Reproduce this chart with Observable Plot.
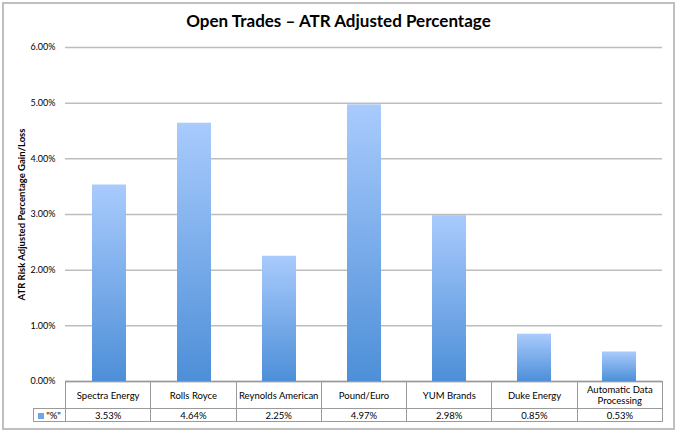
<!DOCTYPE html>
<html>
<head>
<meta charset="utf-8">
<script src="https://cdn.jsdelivr.net/npm/d3@7"></script>
<script src="https://cdn.jsdelivr.net/npm/@observablehq/plot@0.6"></script>
<style>
  html, body { margin: 0; padding: 0; background: #fff; }
  #wrap { position: relative; width: 677px; height: 431px; font-family: Lato, "Open Sans", sans-serif; color: #000; overflow: hidden; }
  #frame { position: absolute; left: 2px; top: 2px; width: 669px; height: 424px; border: 2px solid #bfbfbf; box-sizing: content-box; }
  #title { position: absolute; left: 0; width: 677px; top: 10px; text-align: center; font-weight: bold; font-size: 17px; }
  #chart { position: absolute; left: 0; top: 0; }
  #chart svg text { font-family: Lato, "Open Sans", sans-serif; }
  #chart g[aria-label="y-axis label"] text { font-weight: bold; font-size: 9.5px; }
  #tbl { position: absolute; left: 33px; top: 381px; border-collapse: collapse; font-size: 9.5px; table-layout: fixed; }
  #tbl td { border: 1px solid #9a9a9a; text-align: center; padding: 0; line-height: 11px; }
  #tbl tr.r1 td { height: 26px; }
  #tbl tr.r2 td { height: 12px; }
  #tbl td.blank { border: none; border-right: 1px solid #9a9a9a; }
  .sw { display: inline-block; width: 6px; height: 6px; background: #6fa6ea; margin-right: 2px; vertical-align: 0px; }
</style>
</head>
<body>
<div id="wrap">
  <div id="frame"></div>
  <div id="chart"></div>
  <div id="title">Open Trades – ATR Adjusted Percentage</div>
  <table id="tbl"></table>
</div>
<script>
const categories = ["Spectra Energy", "Rolls Royce", "Reynolds American", "Pound/Euro", "YUM Brands", "Duke Energy", "Automatic Data Processing"];
const categoryLines = [["Spectra Energy"], ["Rolls Royce"], ["Reynolds American"], ["Pound/Euro"], ["YUM Brands"], ["Duke Energy"], ["Automatic Data", "Processing"]];
const values = [3.53, 4.64, 2.25, 4.97, 2.98, 0.85, 0.53];
const yTicks = [0, 1, 2, 3, 4, 5, 6];
const seriesName = "\"%\"";
const yLabel = "ATR Risk Adjusted Percentage Gain/Loss";

const data = categories.map((c, i) => ({category: c, value: values[i]}));
const fmt = d => d.toFixed(2) + "%";

const plot = Plot.plot({
  width: 677,
  height: 431,
  marginLeft: 65,
  marginRight: 15,
  marginTop: 47,
  marginBottom: 50,
  x: {domain: categories, paddingInner: 0.6, paddingOuter: 0.3, axis: null},
  y: {domain: [0, 6]},
  marks: [
    Plot.gridY(yTicks, {stroke: "#bdbdbd", strokeOpacity: 1, strokeWidth: 1.5}),
    Plot.axisY({ticks: yTicks, tickSize: 0, tickPadding: 10, tickFormat: fmt, fontSize: 9,
      label: yLabel, labelAnchor: "center", labelArrow: "none", labelOffset: 47}),
    Plot.ruleX([0], {frameAnchor: "left", stroke: "#bdbdbd", strokeWidth: 1.5}),
    Plot.ruleY([0], {stroke: "#9a9a9a", strokeWidth: 1.5}),
    Plot.barY(data, {x: "category", y: "value", fill: "url(#barGrad)"})
  ]
});

const svg = d3.select(plot);
const defs = svg.insert("defs", ":first-child");
const grad = defs.append("linearGradient").attr("id", "barGrad")
  .attr("x1", 0).attr("y1", 0).attr("x2", 0).attr("y2", 1);
grad.append("stop").attr("offset", "0%").attr("stop-color", "#a9cbfd");
grad.append("stop").attr("offset", "100%").attr("stop-color", "#4d8fd8");

document.getElementById("chart").appendChild(plot);

// data table below the plot, one column per x band
const xs = plot.scale("x");
const colW = (xs.range[1] - xs.range[0]) / categories.length;
const tbl = d3.select("#tbl");
const cg = tbl.append("colgroup");
cg.append("col").style("width", "32px");
categories.forEach(() => cg.append("col").style("width", colW + "px"));
const r1 = tbl.append("tr").attr("class", "r1");
r1.append("td").attr("class", "blank");
categoryLines.forEach(lines => r1.append("td").html(lines.join("<br>")));
const r2 = tbl.append("tr").attr("class", "r2");
r2.append("td").html('<span class="sw"></span>' + seriesName);
values.forEach(v => r2.append("td").text(fmt(v)));
</script>
</body>
</html>
